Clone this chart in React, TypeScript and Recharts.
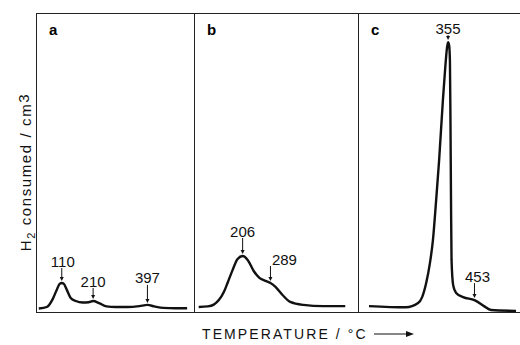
import React from 'react';
import { LineChart, Line, XAxis, YAxis, ReferenceDot } from 'recharts';

// panel a
const tempA = [33, 60, 80, 93, 103, 110, 117, 127, 140, 157, 180, 200, 215, 235, 260, 290, 330, 370, 397, 420, 450, 490, 530];
const h2A = [1.5, 2, 4.7, 7.7, 9.7, 10, 9.7, 7.7, 5, 4, 3.5, 3.6, 4, 3.3, 2.2, 2, 2, 2.3, 2.7, 2.2, 1.7, 1.6, 1.6];
const peaksA = [110, 215, 397];
const peakLabelsA = ['110', '210', '397'];

// panel b
const tempB = [75, 102, 120, 135, 150, 161, 176, 191, 206, 221, 239, 256, 274, 289, 304, 325, 348, 387, 446, 512];
const h2B = [2, 2.2, 2.8, 4.3, 7, 10, 14.3, 18, 19, 17.7, 14, 11.7, 10.7, 10, 8.7, 6, 3.7, 2.7, 2.3, 2.3];
const peaksB = [206, 289];
const peakLabelsB = ['206', '289'];

// panel c
const tempC = [62, 199, 244, 259, 274, 288, 299, 311, 322, 336, 344, 351, 355, 359, 362, 364, 366, 368, 374, 385, 411, 453, 488, 514, 607];
const h2C = [2.3, 1.9, 3.3, 5.3, 10, 16.7, 24.3, 37.7, 51, 71, 81, 88.3, 90.3, 89.3, 84, 64, 37.7, 17.7, 9.3, 6.7, 5.3, 4.3, 2.3, 1, 0.7];
const peaksC = [355, 453];
const peakLabelsC = ['355', '453'];

const FONT = '"Liberation Sans", Arial, Helvetica, sans-serif';

type Note = { dx: number; dy: number };

function Panel({ temps, values, peaks, labels, notes, domain, left, width, letter }: {
  temps: number[]; values: number[]; peaks: number[]; labels: string[];
  notes: Note[]; domain: [number, number]; left: number; width: number; letter: string;
}) {
  const data = temps.map((t, i) => ({ t, v: values[i] }));
  return (
    <div style={{ position: 'absolute', left, top: 13, width, height: 300 }}>
      <div style={{ position: 'absolute', left: 12, top: 10, fontFamily: FONT, fontWeight: 'bold', fontSize: 15, lineHeight: '14px' }}>
        {letter}
      </div>
      <LineChart width={width} height={300} data={data} margin={{ top: 0, right: 0, bottom: 0, left: 0 }} style={{ overflow: 'visible' }}>
        <XAxis dataKey="t" type="number" domain={domain} hide allowDataOverflow />
        <YAxis type="number" domain={[0, 100]} hide allowDataOverflow />
        <Line dataKey="v" type="monotone" stroke="#111" strokeWidth={2.4} dot={false} isAnimationActive={false} />
        {peaks.map((p, i) => {
          const v = data.find(d => d.t === p)?.v ?? 0;
          const n = notes[i];
          return (
            <ReferenceDot
              key={p}
              x={p}
              y={v}
              ifOverflow="visible"
              shape={(props: any) => {
                const { cx, cy } = props;
                const top = cy - n.dy + 7;
                return (
                  <g>
                    <text x={cx + n.dx} y={cy - n.dy} textAnchor="middle" dominantBaseline="central" fontSize={15} fontFamily={FONT} fill="#111">
                      {labels[i]}
                    </text>
                    {cy - 6 > top && <line x1={cx} y1={top} x2={cx} y2={cy - 5} stroke="#111" strokeWidth={1} />}
                    <path d={`M${cx - 2},${cy - 6} L${cx + 2},${cy - 6} L${cx},${cy - 2} Z`} fill="#111" />
                  </g>
                );
              }}
            />
          );
        })}
      </LineChart>
    </div>
  );
}

export default function App() {
  return (
    <div style={{ position: 'absolute', left: 0, top: 0, width: 520, height: 345, background: '#fff', overflow: 'hidden' }}>
      {/* frame */}
      <div style={{ position: 'absolute', left: 36, top: 13, width: 484, height: 1.2, background: '#222' }} />
      <div style={{ position: 'absolute', left: 36, top: 312, width: 484, height: 1.2, background: '#222' }} />
      {[36, 194, 358].map(x => (
        <div key={x} style={{ position: 'absolute', left: x, top: 13, width: 1.2, height: 300, background: '#222' }} />
      ))}

      <Panel temps={tempA} values={h2A} peaks={peaksA} labels={peakLabelsA}
        notes={[{ dx: 1, dy: 22 }, { dx: 0, dy: 20 }, { dx: 0, dy: 27 }]}
        domain={[27, 553]} left={37} width={157} letter="a" />
      <Panel temps={tempB} values={h2B} peaks={peaksB} labels={peakLabelsB}
        notes={[{ dx: 0, dy: 25 }, { dx: 14, dy: 24 }]}
        domain={[64, 550]} left={195} width={163} letter="b" />
      <Panel temps={tempC} values={h2C} peaks={peaksC} labels={peakLabelsC}
        notes={[{ dx: 0, dy: 14 }, { dx: 3, dy: 24 }]}
        domain={[25, 618]} left={359} width={160} letter="c" />

      {/* y title */}
      <div style={{
        position: 'absolute', left: 27, top: 172, transform: 'translate(-50%, -50%) rotate(-90deg)',
        whiteSpace: 'nowrap', fontFamily: FONT, fontSize: 15, letterSpacing: 1.6, color: '#111',
      }}>
        H<sub style={{ fontSize: 11 }}>2</sub> consumed / cm<span style={{ position: 'relative', top: -2 }}>3</span>
      </div>

      {/* x title */}
      <div style={{
        position: 'absolute', left: 202, top: 326, whiteSpace: 'nowrap', fontFamily: FONT, fontSize: 14,
        letterSpacing: 2.1, color: '#111', display: 'flex', alignItems: 'center',
      }}>
        <span>TEMPERATURE / °C</span>
        <svg width={44} height={10} style={{ marginLeft: 4 }}>
          <line x1={2} y1={5} x2={36} y2={5} stroke="#111" strokeWidth={1.2} />
          <path d="M34,2 L42,5 L34,8 Z" fill="#111" />
        </svg>
      </div>
    </div>
  );
}
